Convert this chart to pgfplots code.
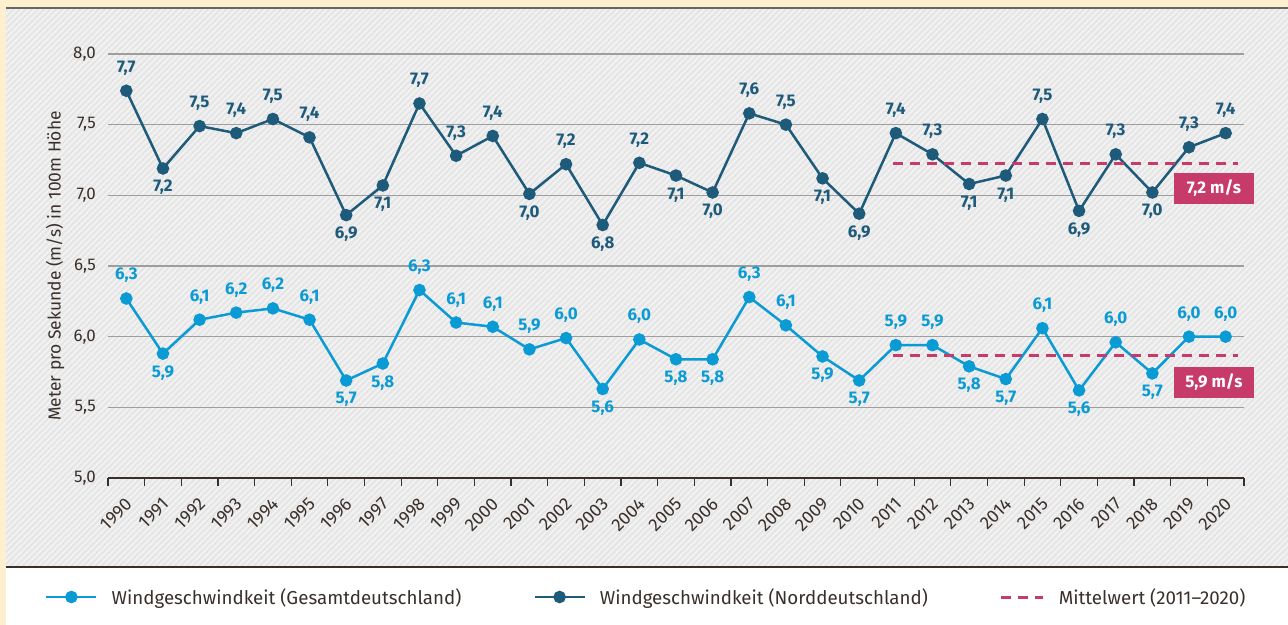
\documentclass[border=0pt]{standalone}
\usepackage{pgfplots}
\pgfplotsset{compat=1.18}
\usepackage{pgfplotstable}
\usepackage{fontspec}
\setmainfont{Fira Sans}
\usetikzlibrary{patterns.meta}

\definecolor{nord}{HTML}{1E5A7A}
\definecolor{gesamt}{HTML}{0A9AD4}
\definecolor{mittel}{HTML}{C73B6B}
\definecolor{textcol}{HTML}{3A302B}
\definecolor{gelb}{HTML}{FEF0CF}

\pgfplotsset{mean legend/.style={legend image code/.code={\draw[##1] (8bp,0bp) -- (50bp,0bp);}}}

% label offsets: +22 above the point, -20 below
\pgfplotstableread{
year nord nlab noff gesamt glab goff
1990 7.74 7,7  22 6.27 6,3  22
1991 7.19 7,2 -20 5.88 5,9 -20
1992 7.49 7,5  22 6.12 6,1  22
1993 7.44 7,4  22 6.17 6,2  22
1994 7.54 7,5  22 6.20 6,2  22
1995 7.41 7,4  22 6.12 6,1  22
1996 6.86 6,9 -20 5.69 5,7 -20
1997 7.07 7,1 -20 5.81 5,8 -20
1998 7.65 7,7  22 6.33 6,3  22
1999 7.28 7,3  22 6.10 6,1  22
2000 7.42 7,4  22 6.07 6,1  22
2001 7.01 7,0 -20 5.91 5,9  22
2002 7.22 7,2  22 5.99 6,0  22
2003 6.79 6,8 -20 5.63 5,6 -20
2004 7.23 7,2  22 5.98 6,0  22
2005 7.14 7,1 -20 5.84 5,8 -20
2006 7.02 7,0 -20 5.84 5,8 -20
2007 7.58 7,6  22 6.28 6,3  22
2008 7.50 7,5  22 6.08 6,1  22
2009 7.12 7,1 -20 5.86 5,9 -20
2010 6.87 6,9 -20 5.69 5,7 -20
2011 7.44 7,4  22 5.94 5,9  22
2012 7.29 7,3  22 5.94 5,9  22
2013 7.08 7,1 -20 5.79 5,8 -20
2014 7.14 7,1 -20 5.70 5,7 -20
2015 7.54 7,5  22 6.06 6,1  22
2016 6.89 6,9 -20 5.62 5,6 -20
2017 7.29 7,3  22 5.96 6,0  22
2018 7.02 7,0 -20 5.74 5,7 -20
2019 7.34 7,3  22 6.00 6,0  22
2020 7.44 7,4  22 6.00 6,0  22
}\winddata

\begin{document}
\begin{tikzpicture}[x=1bp,y=1bp]
\useasboundingbox (-108,-147) rectangle (1180,478);
% background
\fill[gelb] (-108,-147) rectangle (1180,478);
\fill[black!5] (-102,-89) rectangle (1180,470);
\fill[pattern={Lines[angle=45,distance=4.3bp,line width=2bp]},pattern color=black!10] (-102,-89) rectangle (1180,470);
\fill[white] (-102,-147) rectangle (1180,-89);
\draw[line width=2bp, black!60] (-102,470) -- (1180,470);
\draw[line width=1.5bp, textcol] (-102,-89) -- (1180,-89);

\begin{axis}[
  at={(0,0)}, anchor=south west,
  scale only axis, width=1136bp, height=424bp,
  xmin=1989.5, xmax=2020.5, ymin=5, ymax=8,
  axis lines*=left,
  y axis line style={draw=none},
  x axis line style={textcol, line width=1.5bp},
  ytick={5,5.5,...,8},
  ymajorgrids, grid style={black!38, line width=1.3bp},
  ytick style={draw=none},
  xtick={1989.5,1990.5,...,2020.5},
  xticklabels={1990,1991,1992,1993,1994,1995,1996,1997,1998,1999,2000,2001,2002,2003,2004,2005,2006,2007,2008,2009,2010,2011,2012,2013,2014,2015,2016,2017,2018,2019,2020,{}},
  xtick style={draw=textcol, line width=1.2bp},
  tick align=outside, major tick length=8bp,
  xticklabel style={xshift=21bp, yshift=-15bp, rotate=45, anchor=east, inner sep=0pt,
    font=\fontsize{18}{18}\selectfont, text=textcol},
  yticklabel style={/pgf/number format/.cd, fixed, fixed zerofill, precision=1, use comma,
    /tikz/.cd, inner sep=0pt, xshift=-4bp, font=\fontsize{17}{17}\selectfont, text=textcol},
  /pgf/number format/assume math mode=true,
  ylabel={Meter pro Sekunde (m/s) in 100m Höhe},
  every axis y label/.style={at={(axis description cs:0,0.5)}, xshift=-53bp, rotate=90, anchor=center,
    font=\fontsize{17.5}{17.5}\selectfont, text=textcol},
  clip=false,
  legend style={at={(axis description cs:-0.0555,-0.2807)}, anchor=west, draw=none, fill=none,
    font=\fontsize{18.8}{18.8}\selectfont, text=textcol, inner sep=0pt,
    /tikz/every odd column/.append style={column sep=12bp},
    /tikz/every even column/.append style={column sep=70bp}},
  legend columns=3, legend cell align=left,
  legend image code/.code={\draw[mark repeat=2, mark phase=2, #1] plot coordinates {(0bp,0bp) (25bp,0bp) (50bp,0bp)};},
  lab/.style={draw=none, mark=none, forget plot, nodes near coords, point meta=explicit symbolic,
    every node near coord/.style={anchor=center, yshift=\off bp, text height=0.7em, text depth=0pt,
      inner sep=0pt, font=\bfseries\fontsize{17}{17}\selectfont, text=#1}},
]
\addplot[gesamt, line width=2.5bp, mark=*, mark size=5bp]
  table[x=year, y=gesamt] {\winddata};
\addlegendentry{Windgeschwindkeit (Gesamtdeutschland)}
\addplot[nord, line width=2.5bp, mark=*, mark size=5bp]
  table[x=year, y=nord] {\winddata};
\addlegendentry{Windgeschwindkeit (Norddeutschland)}
\addplot[mittel, line width=3bp, dash pattern=on 10bp off 7bp, mean legend]
  coordinates {(2010.92,7.227) (2020.33,7.227)};
\addlegendentry{Mittelwert (2011–2020)}
\addplot[mittel, line width=3bp, dash pattern=on 10bp off 7bp, forget plot] coordinates {(2010.92,5.870) (2020.33,5.870)};
% value labels
\addplot[lab=gesamt, visualization depends on={\thisrow{goff} \as \off}]
  table[x=year, y=gesamt, meta=glab] {\winddata};
\addplot[lab=nord, visualization depends on={\thisrow{noff} \as \off}]
  table[x=year, y=nord, meta=nlab] {\winddata};
\node[fill=mittel, text=white, font=\bfseries\fontsize{17}{17}\selectfont, minimum width=80bp,
  minimum height=31bp, inner sep=0pt] at (axis cs:2019.68,7.049) {7,2 m/s};
\node[fill=mittel, text=white, font=\bfseries\fontsize{17}{17}\selectfont, minimum width=80bp,
  minimum height=31bp, inner sep=0pt] at (axis cs:2019.68,5.676) {5,9 m/s};
\end{axis}
\end{tikzpicture}
\end{document}
